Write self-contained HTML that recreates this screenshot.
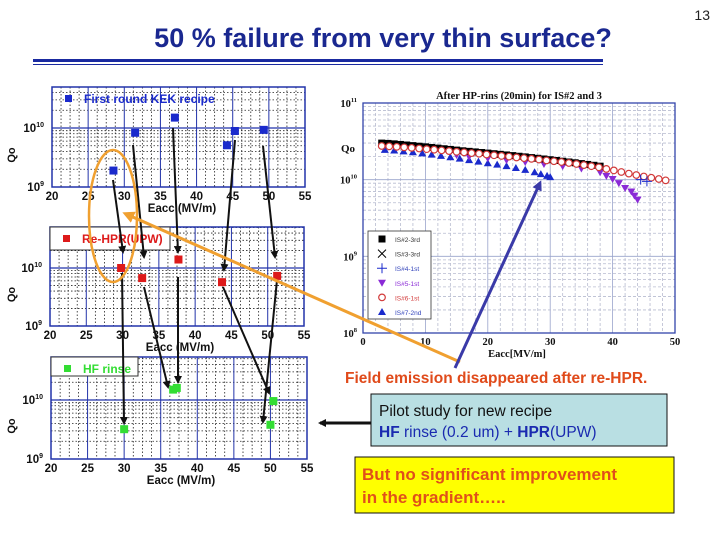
<!DOCTYPE html>
<html><head><meta charset="utf-8">
<style>
html,body{margin:0;padding:0;background:#fff;}
svg{display:block;font-family:"Liberation Sans",Arial,sans-serif;}
</style></head>
<body>
<svg id="s" width="720" height="540" viewBox="0 0 720 540" xmlns="http://www.w3.org/2000/svg">
<text x="383" y="47" text-anchor="middle" font-size="27" font-weight="bold" fill="#1a2890">50 % failure from very thin surface?</text>
<text x="710" y="20" text-anchor="end" font-size="14" fill="#222">13</text>
<rect x="33" y="59" width="570" height="3" fill="#1a2aa0"/>
<rect x="33" y="64" width="570" height="1" fill="#1a2aa0"/>
<g id="left"></g>
<g id="right"></g>
<g id="annot"></g>
<text x="345" y="383" font-size="15.5" font-weight="bold" fill="#e04a1a">Field emission disappeared after re-HPR.</text>
<rect x="371" y="394" width="296" height="52" fill="#b9dfe3" stroke="#111" stroke-width="1"/>
<text x="379" y="416" font-size="15.5" fill="#111">Pilot study for new recipe</text>
<text x="379" y="437" font-size="15.5" fill="#1a2ab0"><tspan font-weight="bold">HF</tspan> rinse (0.2 um) + <tspan font-weight="bold">HPR</tspan>(UPW)</text>
<rect x="355" y="457" width="319" height="56" fill="#ffff00" stroke="#111" stroke-width="1"/>
<text x="362" y="480" font-size="17" font-weight="bold" fill="#e0501a">But no significant improvement</text>
<text x="362" y="503" font-size="17" font-weight="bold" fill="#e0501a">in the gradient…..</text>
</svg>
<script>
// ---- left panel data ----
const kekEacc = [28.5, 31.5, 37, 44.2, 45.3, 49.3];
const kekQ = [1.9e9, 8.3e9, 1.5e10, 5.1e9, 8.9e9, 9.3e9];
const rehprEacc = [29.8, 32.7, 37.7, 43.7, 51.3];
const rehprQ = [1.0e10, 6.7e9, 1.4e10, 5.7e9, 7.3e9];
const hfEacc = [30, 36.7, 37.2, 50, 50.4];
const hfQ = [3.2e9, 1.5e10, 1.6e10, 3.8e9, 9.6e9];
const leftXTicks = [20, 25, 30, 35, 40, 45, 50, 55];
// ---- right chart data (Q in units of 1e10) ----
const is2Eacc = [3,4,5,6,7,8,9,10,11,12,13,14,15,16,17,18,19,20,21,22,23,24,25,26,27,28,29,30,31,32,33,34,35,36,37,38];
const is2Q = [3.0,2.97,2.93,2.88,2.83,2.78,2.73,2.68,2.63,2.58,2.53,2.48,2.43,2.38,2.34,2.30,2.26,2.22,2.18,2.14,2.10,2.06,2.02,1.98,1.94,1.90,1.86,1.82,1.78,1.74,1.70,1.66,1.62,1.58,1.54,1.50];
const is6Eacc = [3,4.2,5.4,6.6,7.8,9,10.2,11.4,12.6,13.8,15,16.2,17.4,18.6,19.8,21,22.2,23.4,24.6,25.8,27,28.2,29.4,30.6,31.8,33,34.2,35.4,36.6,37.8,39,40.2,41.4,42.6,43.8,45,46.2,47.4,48.5];
const is6Q = [2.75,2.72,2.68,2.64,2.6,2.55,2.5,2.46,2.41,2.36,2.31,2.27,2.22,2.18,2.13,2.08,2.04,2.0,1.95,1.91,1.87,1.83,1.78,1.74,1.7,1.65,1.6,1.55,1.5,1.45,1.38,1.32,1.26,1.2,1.15,1.1,1.06,1.02,0.98];
const is7Eacc = [3.5,5,6.5,8,9.5,11,12.5,14,15.5,17,18.5,20,21.5,23,24.5,26,27.5,28.5,29.5,30];
const is7Q = [2.45,2.4,2.34,2.28,2.2,2.12,2.04,1.96,1.88,1.8,1.72,1.64,1.57,1.5,1.42,1.34,1.25,1.18,1.12,1.08];
const is5Eacc = [15,17,20,23,26,29,32,35,38,39,40,41,42,43,43.5,44];
const is5Q = [2.1,2.0,1.9,1.8,1.7,1.6,1.5,1.4,1.25,1.12,1.02,0.9,0.78,0.7,0.62,0.55];
const is4Eacc = [44.5, 45.5];
const is4Q = [1.0, 0.95];
const rightXTicks = [0, 10, 20, 30, 40, 50];
const rightYExp = [8, 9, 10, 11];
const legendLabels = ["IS#2-3rd","IS#3-3rd","IS#4-1st","IS#5-1st","IS#6-1st","IS#7-2nd"];

const NS = "http://www.w3.org/2000/svg";
function mk(parent, tag, attrs, txt){
  const e = document.createElementNS(NS, tag);
  for (const k in attrs) e.setAttribute(k, attrs[k]);
  if (txt !== undefined) e.textContent = txt;
  parent.appendChild(e);
  return e;
}
const L = document.getElementById('left');
const R = document.getElementById('right');
const A = document.getElementById('annot');

function leftPanel(cfg, xs, ys, color, label, boxW, idx){
  const g = mk(L, 'g', {});
  
  
  const sx = v => cfg.x0 + (v - 20) / 35 * (cfg.x1 - cfg.x0);
  const sy = q => cfg.yb - (Math.log10(q) - 9) * cfg.dec;
  for (let v = 21.25; v < 55; v += 1.25) {
    if (Math.abs(v % 5) < 0.01) continue;
    const ln = mk(g, 'line', {x1: sx(v), x2: sx(v), y1: cfg.yt, y2: cfg.yb, stroke: '#222', 'stroke-width': 0.8, 'stroke-dasharray': '1.5,2'});
    
    
  }
  for (let d = 9; d <= 10; d++) for (let m = 2; m <= 9; m++) {
    const y = sy(m * Math.pow(10, d));
    if (y < cfg.yt) continue;
    const ln = mk(g, 'line', {x1: cfg.x0, x2: cfg.x1, y1: y, y2: y, stroke: '#222', 'stroke-width': 0.8, 'stroke-dasharray': '1.5,2'});
    
    
  }
  leftXTicks.forEach(v => {
    const ln = mk(g, 'line', {x1: sx(v), x2: sx(v), y1: cfg.yt, y2: cfg.yb, stroke: '#2233aa', 'stroke-width': 1});
    
    
    const t = mk(g, 'text', {x: sx(v), y: cfg.yb + 13, 'text-anchor': 'middle', 'font-size': 11.5, 'font-weight': 'bold', fill: '#111'}, String(v));
    
    
  });
  const hl = mk(g, 'line', {x1: cfg.x0, x2: cfg.x1, y1: sy(1e10), y2: sy(1e10), stroke: '#2233aa', 'stroke-width': 1.2});
  
  
  const fr = mk(g, 'rect', {x: cfg.x0, y: cfg.yt, width: cfg.x1 - cfg.x0, height: cfg.yb - cfg.yt, fill: 'none', stroke: '#2233aa', 'stroke-width': 1.5});
  
  
  [[9, '9'], [10, '10']].forEach(([e, s]) => {
    const t = mk(g, 'text', {x: cfg.x0 - 8, y: sy(Math.pow(10, e)) + 4, 'text-anchor': 'end', 'font-size': 11.5, 'font-weight': 'bold', fill: '#111'});
    
    
    mk(t, 'tspan', {}, '10');
    mk(t, 'tspan', {dy: -5, 'font-size': 7}, s);
  });
  const yt = mk(g, 'text', {x: 15, y: (cfg.yt + cfg.yb) / 2 + 18, transform: 'rotate(-90 15 ' + ((cfg.yt + cfg.yb) / 2 + 18) + ')', 'font-size': 11, 'font-weight': 'bold', fill: '#111', 'text-anchor': 'middle'}, 'Qo');
  
  
  const xt = mk(g, 'text', {x: cfg.x0 + 130, y: cfg.yb + 25, 'text-anchor': 'middle', 'font-size': 11.5, 'font-weight': 'bold', fill: '#111'}, 'Eacc (MV/m)');
  
  
  if (boxW) {
    const lb = mk(g, 'rect', {x: cfg.x0, y: cfg.yt, width: boxW, height: cfg.lh, fill: '#fff', stroke: '#333', 'stroke-width': 1});
    
    
  }
  const lm = mk(g, 'rect', {x: cfg.x0 + 13, y: cfg.ly - 8, width: 7, height: 7, fill: color});
  
  
  const lt = mk(g, 'text', {x: cfg.x0 + 32, y: cfg.ly, 'font-size': 12, 'font-weight': 'bold', fill: color}, label);
  
  
  xs.forEach((v, i) => {
    const p = mk(g, 'rect', {x: sx(v) - 4, y: sy(ys[i]) - 4, width: 8, height: 8, fill: color});
    
    
  });
}
leftPanel({x0: 52, x1: 305, yt: 87, yb: 187, dec: 59, ly: 103, lh: 22}, kekEacc, kekQ, '#1a2acc', 'First  round KEK recipe', 0, 1);
leftPanel({x0: 50, x1: 304, yt: 227, yb: 326, dec: 58, ly: 243, lh: 23}, rehprEacc, rehprQ, '#dd1a1a', 'Re-HPR(UPW)', 120, 2);
leftPanel({x0: 51, x1: 307, yt: 357, yb: 459, dec: 59, ly: 373, lh: 19}, hfEacc, hfQ, '#33dd33', 'HF rinse', 87, 3);

const rc = {x0: 363, x1: 675, yt: 103, yb: 333};
const rx = v => rc.x0 + v / 50 * (rc.x1 - rc.x0);
const ry = q => rc.yb - (Math.log10(q) - 8) / 3 * (rc.yb - rc.yt);
const rg = mk(R, 'g', {});


mk(rg, 'rect', {x: rc.x0, y: rc.yt, width: rc.x1 - rc.x0, height: rc.yb - rc.yt, fill: '#fff'});
for (let v = 2; v < 50; v += 2) {
  const ln = mk(rg, 'line', {x1: rx(v), x2: rx(v), y1: rc.yt, y2: rc.yb, stroke: v % 10 === 0 ? '#99a3cc' : '#b8bcd0', 'stroke-width': 0.8, 'stroke-dasharray': v % 10 === 0 ? '' : '3,2'});
  
  
}
for (let d = 8; d <= 10; d++) for (let m = 1; m <= 9; m++) {
  const y = ry(m * Math.pow(10, d));
  const ln = mk(rg, 'line', {x1: rc.x0, x2: rc.x1, y1: y, y2: y, stroke: m === 1 ? '#99a3cc' : '#b8bcd0', 'stroke-width': 0.8, 'stroke-dasharray': m === 1 ? '' : '3,2'});
  
  
}
const rf = mk(rg, 'rect', {x: rc.x0, y: rc.yt, width: rc.x1 - rc.x0, height: rc.yb - rc.yt, fill: 'none', stroke: '#3344aa', 'stroke-width': 1.3});


const rt = mk(rg, 'text', {x: 519, y: 99, 'text-anchor': 'middle', 'font-family': '"Liberation Serif",serif', 'font-size': 10.5, 'font-weight': 'bold', fill: '#111'}, 'After HP-rins (20min) for IS#2 and 3');


rightXTicks.forEach(v => {
  const t = mk(rg, 'text', {x: rx(v), y: rc.yb + 12, 'text-anchor': 'middle', 'font-family': '"Liberation Serif",serif', 'font-size': 10.5, 'font-weight': 'bold', fill: '#111'}, String(v));
  
  
});
rightYExp.forEach(e => {
  const t = mk(rg, 'text', {x: rc.x0 - 6, y: ry(Math.pow(10, e)) + 4, 'text-anchor': 'end', 'font-family': '"Liberation Serif",serif', 'font-size': 10.5, 'font-weight': 'bold', fill: '#111'});
  
  
  mk(t, 'tspan', {}, '10');
  mk(t, 'tspan', {dy: -5, 'font-size': 6.5}, String(e));
});
const ryt = mk(rg, 'text', {x: 341, y: 152, 'font-family': '"Liberation Serif",serif', 'font-size': 11, 'font-weight': 'bold', fill: '#111'}, 'Qo');


const rxt = mk(rg, 'text', {x: 517, y: 357, 'text-anchor': 'middle', 'font-family': '"Liberation Serif",serif', 'font-size': 10.5, 'font-weight': 'bold', fill: '#111'}, 'Eacc[MV/m]');



function marker(g, kind, x, y){
  let e;
  if (kind === 'sq') e = mk(g, 'rect', {x: x - 3.5, y: y - 3.5, width: 7, height: 7, fill: '#000'});
  else if (kind === 'circ') e = mk(g, 'circle', {cx: x, cy: y, r: 3.3, fill: '#fff', stroke: '#d23a3a', 'stroke-width': 1.2});
  else if (kind === 'tri') e = mk(g, 'path', {d: `M${x} ${y - 4}L${x + 4} ${y + 3}L${x - 4} ${y + 3}Z`, fill: '#1a2acc'});
  else if (kind === 'dtri') e = mk(g, 'path', {d: `M${x} ${y + 4}L${x + 4} ${y - 3}L${x - 4} ${y - 3}Z`, fill: '#8a2ad6'});
  else if (kind === 'plus') e = mk(g, 'path', {d: `M${x - 5} ${y}H${x + 5}M${x} ${y - 5}V${y + 5}`, stroke: '#1a2acc', 'stroke-width': 1, fill: 'none'});
  else e = mk(g, 'path', {d: `M${x - 4} ${y - 4}L${x + 4} ${y + 4}M${x + 4} ${y - 4}L${x - 4} ${y + 4}`, stroke: '#000', 'stroke-width': 1, fill: 'none'});
  return e;
}
function series(xs, qs, kind, name){
  const g = mk(rg, 'g', {});
  
  
  xs.forEach((v, i) => {
    const m = marker(g, kind, rx(v), ry(qs[i] * 1e10));
    
    
  });
}
series(is7Eacc, is7Q, 'tri', 'series-is7-2nd');
series(is5Eacc, is5Q, 'dtri', 'series-is5-1st');
series(is2Eacc, is2Q, 'sq', 'series-is2-3rd');
series(is6Eacc, is6Q, 'circ', 'series-is6-1st');
series(is4Eacc, is4Q, 'plus', 'series-is4-1st');
const lg = mk(rg, 'g', {});


mk(lg, 'rect', {x: 368, y: 231, width: 63, height: 88, fill: '#fff', stroke: '#333', 'stroke-width': 0.8});
const kinds = ['sq', 'x', 'plus', 'dtri', 'circ', 'tri'];
const lcol = ['#333', '#333', '#3344bb', '#8a2ad6', '#d23a3a', '#3344bb'];
legendLabels.forEach((s, i) => {
  const y = 239 + i * 14.6;
  const m = marker(lg, kinds[i], 382, y);
  
  
  const t = mk(lg, 'text', {x: 395, y: y + 3, 'font-size': 6.5, fill: lcol[i]}, s);
  
  
});

const defs = mk(A, 'defs', {});
const mkr = mk(defs, 'marker', {id: 'ah', markerWidth: 8, markerHeight: 8, refX: 6, refY: 4, orient: 'auto', markerUnits: 'userSpaceOnUse'});
mk(mkr, 'path', {d: 'M0 0L8 4L0 8Z', fill: '#111'});
const mkb = mk(defs, 'marker', {id: 'ahb', markerWidth: 10, markerHeight: 10, refX: 7, refY: 5, orient: 'auto', markerUnits: 'userSpaceOnUse'});
mk(mkb, 'path', {d: 'M0 0L10 5L0 10Z', fill: '#3a3aa8'});
const mko = mk(defs, 'marker', {id: 'aho', markerWidth: 12, markerHeight: 12, refX: 8, refY: 6, orient: 'auto', markerUnits: 'userSpaceOnUse'});
mk(mko, 'path', {d: 'M0 0L12 6L0 12Z', fill: '#f0a030'});
const arrows = [[113,180,123,252],[133,145,144,257],[173,128,178,252],[235,140,224,270],[263,146,275,257],
                [122,273,124,423],[144,287,168,387],[178,277,178,382],[223,287,269,393],[277,280,263,422]];
arrows.forEach(a => {
  const l = mk(A, 'line', {x1: a[0], y1: a[1], x2: a[2], y2: a[3], stroke: '#111', 'stroke-width': 2, 'marker-end': 'url(#ah)'});
  
  
});
const ell = mk(A, 'ellipse', {cx: 113, cy: 216, rx: 24, ry: 66, fill: 'none', stroke: '#f0a030', 'stroke-width': 2.5});


const oa = mk(A, 'line', {x1: 460, y1: 362, x2: 126, y2: 214, stroke: '#f0a030', 'stroke-width': 3, 'marker-end': 'url(#aho)'});


const ba = mk(A, 'line', {x1: 455, y1: 368, x2: 540, y2: 183, stroke: '#3a3aa8', 'stroke-width': 3, 'marker-end': 'url(#ahb)'});


const pa = mk(A, 'line', {x1: 371, y1: 423, x2: 320, y2: 423, stroke: '#111', 'stroke-width': 3, 'marker-end': 'url(#ah)'});


</script>
</body></html>
